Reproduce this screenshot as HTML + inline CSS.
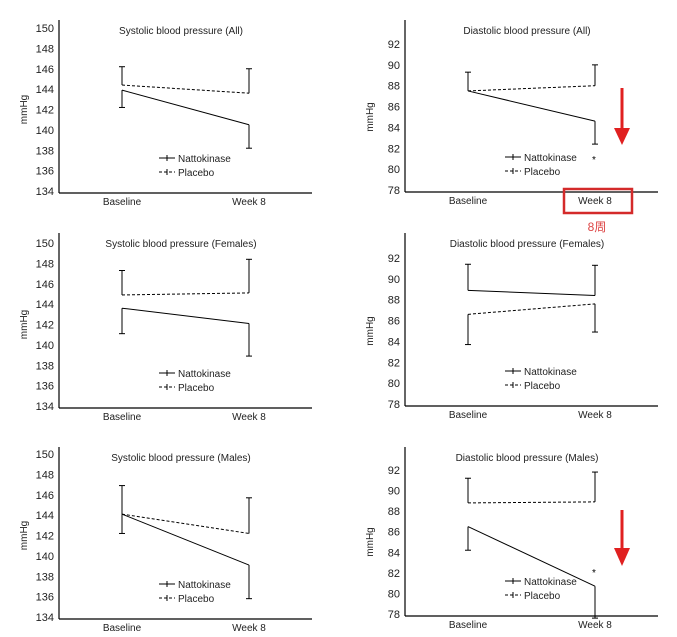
<!DOCTYPE html>
<html><head><meta charset="utf-8"><style>
html,body{margin:0;padding:0;background:#fff;}
svg{display:block;font-family:"Liberation Sans","Noto Sans CJK SC",sans-serif;}
</style></head><body>
<svg id="s" width="677" height="637" viewBox="0 0 677 637" xmlns="http://www.w3.org/2000/svg"></svg>
<script>
var S=document.getElementById('s'),h='';
function P(o){
 var sc=(o.yb-o.yt)/(o.vmax-o.vmin);
 function Y(v){return o.yb-(v-o.vmin)*sc;}
 h+='<line x1="'+o.ax+'" y1="'+(o.ty-14)+'" x2="'+o.ax+'" y2="'+(o.yb+2)+'" stroke="#000" stroke-width="1.2"/>';
 h+='<line x1="'+o.ax+'" y1="'+(o.yb+2)+'" x2="'+(o.ax+253)+'" y2="'+(o.yb+2)+'" stroke="#000" stroke-width="1.2"/>';
 for(var v=o.vmin;v<=o.vmax;v+=2){h+='<text x="'+(o.ax-5)+'" y="'+(Y(v)+4)+'" font-size="11" text-anchor="end" fill="#222">'+v+'</text>';}
 h+='<text transform="translate('+(o.ax-32)+','+((o.yt+o.yb)/2)+') rotate(-90)" font-size="10" text-anchor="middle" fill="#222">mmHg</text>';
 h+='<text x="'+(o.ax+122)+'" y="'+o.ty+'" font-size="10" text-anchor="middle" fill="#222">'+o.t+'</text>';
 var bx=o.ax+63,wx=o.ax+190;
 h+='<text x="'+bx+'" y="'+(o.yb+14)+'" font-size="10" text-anchor="middle" fill="#222">Baseline</text>';
 h+='<text x="'+wx+'" y="'+(o.yb+14)+'" font-size="10" text-anchor="middle" fill="#222">Week 8</text>';
 function ser(d,dash){
  h+='<line x1="'+bx+'" y1="'+Y(d[0])+'" x2="'+wx+'" y2="'+Y(d[1])+'" stroke="#000" stroke-width="1"'+(dash?' stroke-dasharray="3,2"':'')+'/>';
  [[bx,d[0],d[2]],[wx,d[1],d[3]]].forEach(function(e){
   if(e[2]==null)return;
   var ye=Math.min(Math.max(Y(e[2]),o.yt-20),o.yb+20);
   h+='<line x1="'+e[0]+'" y1="'+Y(e[1])+'" x2="'+e[0]+'" y2="'+ye+'" stroke="#000" stroke-width="1"/>';
   h+='<line x1="'+(e[0]-3)+'" y1="'+ye+'" x2="'+(e[0]+3)+'" y2="'+ye+'" stroke="#000" stroke-width="1"/>';
  });
 }
 ser(o.n,false);ser(o.p,true);
 var lx=o.ax+100,ly=o.yb-33;
 h+='<line x1="'+lx+'" y1="'+ly+'" x2="'+(lx+16)+'" y2="'+ly+'" stroke="#000"/><line x1="'+(lx+8)+'" y1="'+(ly-3)+'" x2="'+(lx+8)+'" y2="'+(ly+3)+'" stroke="#000"/>';
 h+='<text x="'+(lx+19)+'" y="'+(ly+4)+'" font-size="10" fill="#222">Nattokinase</text>';
 ly+=14;
 h+='<line x1="'+lx+'" y1="'+ly+'" x2="'+(lx+16)+'" y2="'+ly+'" stroke="#000" stroke-dasharray="3,2"/><line x1="'+(lx+8)+'" y1="'+(ly-3)+'" x2="'+(lx+8)+'" y2="'+(ly+3)+'" stroke="#000"/>';
 h+='<text x="'+(lx+19)+'" y="'+(ly+4)+'" font-size="10" fill="#222">Placebo</text>';
 if(o.star)h+='<text x="'+(wx-3)+'" y="'+Y(o.star)+'" font-size="10" fill="#000">*</text>';
}
P({ax:59,yt:28,yb:191,ty:34,vmin:134,vmax:150,t:'Systolic blood pressure (All)',n:[143.9,140.5,142.2,138.2],p:[144.4,143.6,146.2,146.0]});
P({ax:405,yt:44,yb:190,ty:34,vmin:78,vmax:92,t:'Diastolic blood pressure (All)',n:[87.5,84.6,null,82.4],p:[87.5,88,89.3,90],star:80.6});
P({ax:59,yt:243,yb:406,ty:247,vmin:134,vmax:150,t:'Systolic blood pressure (Females)',n:[143.6,142.1,141.1,138.9],p:[144.9,145.1,147.3,148.4]});
P({ax:405,yt:258,yb:404,ty:247,vmin:78,vmax:92,t:'Diastolic blood pressure (Females)',n:[88.9,88.4,91.4,91.3],p:[86.6,87.6,83.7,84.9]});
P({ax:59,yt:454,yb:617,ty:461,vmin:134,vmax:150,t:'Systolic blood pressure (Males)',n:[144.1,139.1,146.9,135.8],p:[144.1,142.2,142.2,145.7]});
P({ax:405,yt:470,yb:614,ty:461,vmin:78,vmax:92,t:'Diastolic blood pressure (Males)',n:[86.5,80.7,84.2,77.6],p:[88.8,88.9,91.2,91.8],star:81.7});
h+='<rect x="564" y="189" width="68" height="24" fill="none" stroke="#d42a2a" stroke-width="2.5"/>';
h+='<text x="597" y="231" font-size="12" text-anchor="middle" fill="#d44">8周</text>';
h+='<line x1="622" y1="88" x2="622" y2="130" stroke="#e02020" stroke-width="3"/><polygon points="614,128 630,128 622,145" fill="#e02020"/>';
h+='<line x1="622" y1="510" x2="622" y2="550" stroke="#e02020" stroke-width="3"/><polygon points="614,548 630,548 622,566" fill="#e02020"/>';
S.innerHTML=h;
</script>
</body></html>
